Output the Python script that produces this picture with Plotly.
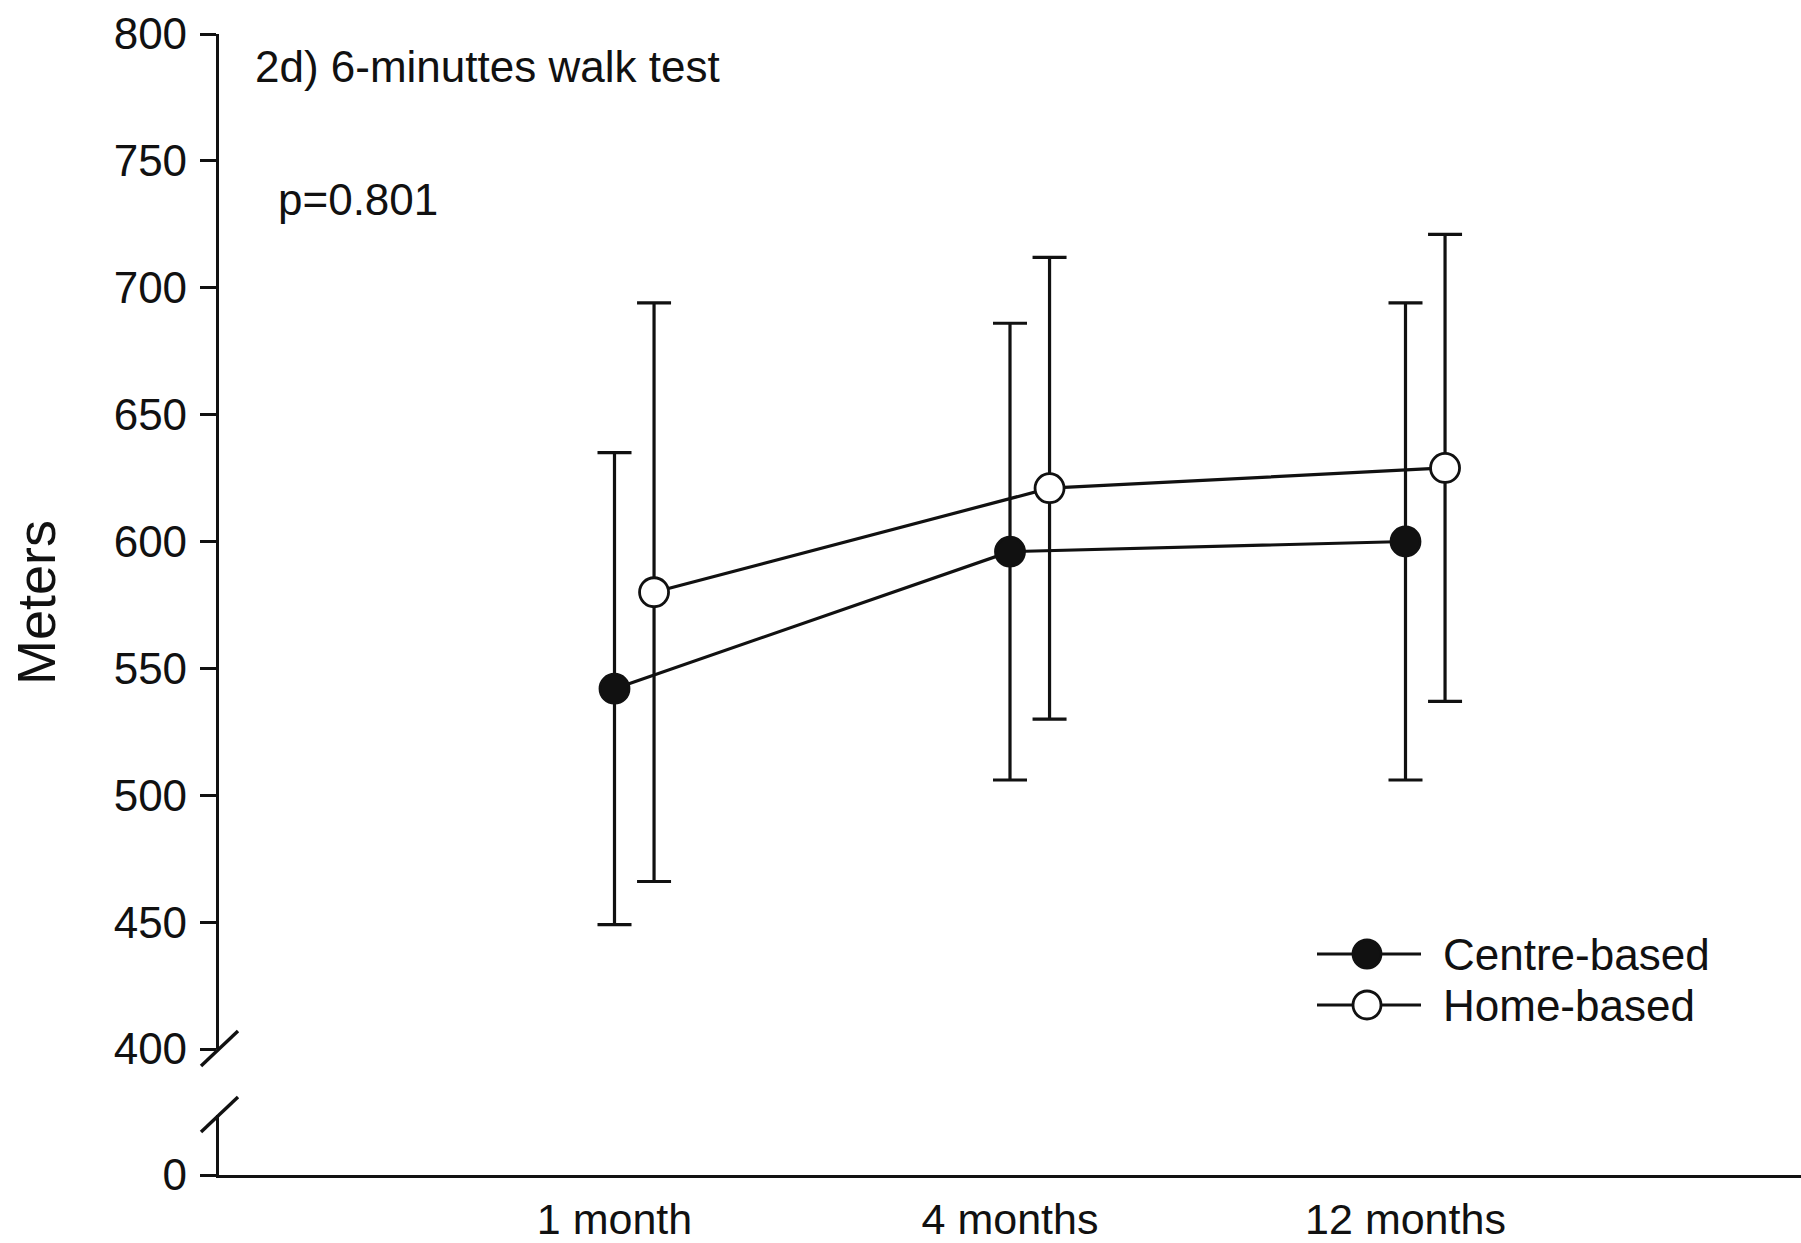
import plotly.graph_objects as go

# Six-minute walk test distance (m), mean and SD per follow-up visit
categories = ["1 month", "4 months", "12 months"]
centre_mean = [542, 596, 600]
centre_sd = [93, 90, 94]
home_mean = [580, 621, 629]
home_sd = [114, 91, 92]
series_names = ["Centre-based", "Home-based"]

y_ticks_upper = [400, 450, 500, 550, 600, 650, 700, 750, 800]
y_ticks_lower = [0]

FONT = "Arial, Liberation Sans, sans-serif"
BLACK = "#111111"
LW = 3.2

W, H = 1801, 1243
M_L, M_R, M_T, M_B = 219, 0, 34, 68
plot_h = H - M_T - M_B

# Broken y axis: upper panel 400-800, lower panel holds only the zero line
upper_bottom_px = 1049
lower_top_px = 1115
zero_px = H - M_B
upper_dom = [(zero_px - upper_bottom_px) / plot_h, 1.0]
lower_dom = [0.0, (zero_px - lower_top_px) / plot_h]
px_per_unit = (upper_bottom_px - M_T) / 400.0
lower_range = [0, (zero_px - lower_top_px) / px_per_unit]

base_x = [i + 1 for i in range(len(categories))]
offset = 0.1

fig = go.Figure()

styles = [
    dict(name=series_names[0], mean=centre_mean, sd=centre_sd, dx=0.0, fill=BLACK),
    dict(name=series_names[1], mean=home_mean, sd=home_sd, dx=offset, fill="white"),
]

for s in styles:
    fig.add_trace(go.Scatter(
        x=[b + s["dx"] for b in base_x],
        y=s["mean"],
        name=s["name"],
        mode="lines+markers",
        line=dict(color=BLACK, width=LW),
        marker=dict(symbol="circle", size=29, color=s["fill"],
                    line=dict(color=BLACK, width=2.8)),
        error_y=dict(type="data", array=s["sd"], symmetric=True,
                     color=BLACK, thickness=LW, width=17),
        xaxis="x", yaxis="y",
        showlegend=False,
        cliponaxis=False,
    ))

# Empty trace so the lower (zero) panel of the broken axis is created
fig.add_trace(go.Scatter(x=[], y=[], xaxis="x", yaxis="y2",
                         showlegend=False, hoverinfo="skip"))

axis_common = dict(
    showline=True, linecolor=BLACK, linewidth=LW,
    showgrid=False, zeroline=False, automargin=False,
    ticks="outside", ticklen=16, tickwidth=LW, tickcolor=BLACK,
    tickfont=dict(family=FONT, size=44, color=BLACK),
    ticklabelstandoff=4,
)

fig.update_layout(
    width=W, height=H,
    margin=dict(l=M_L, r=M_R, t=M_T, b=M_B, pad=0, autoexpand=False),
    paper_bgcolor="white", plot_bgcolor="white",
    font=dict(family=FONT, color=BLACK),
    xaxis=dict(
        domain=[0, 1], anchor="y2", range=[0, 4.0],
        showline=True, linecolor=BLACK, linewidth=LW,
        showgrid=False, zeroline=False, ticks="", automargin=False,
        tickvals=base_x, ticktext=categories,
        tickfont=dict(family=FONT, size=43, color=BLACK),
        ticklabelstandoff=4,
    ),
    yaxis=dict(domain=upper_dom, anchor="x", range=[400, 800],
               tickvals=y_ticks_upper, **axis_common),
    yaxis2=dict(domain=lower_dom, anchor="x", range=lower_range,
                tickvals=y_ticks_lower, **axis_common),
    showlegend=False,
)

# Break marks on the y axis
for yref, anchor in (("y domain", 0), ("y2 domain", 1)):
    fig.add_shape(type="line", xref="paper", yref=yref,
                  xsizemode="pixel", ysizemode="pixel",
                  xanchor=0, yanchor=anchor,
                  x0=-18, x1=19, y0=-17, y1=18,
                  line=dict(color=BLACK, width=3.4))

def px_x(px):
    return (px - M_L) / (W - M_L - M_R)

def px_y(py):
    return (zero_px - py) / plot_h

# Axis title and panel labels
fig.add_annotation(text="Meters", xref="paper", yref="paper",
                   x=px_x(36), y=px_y(603), xanchor="center", yanchor="middle",
                   textangle=-90, showarrow=False,
                   font=dict(family=FONT, size=54, color=BLACK))
fig.add_annotation(text="2d) 6-minuttes walk test", xref="paper", yref="paper",
                   x=px_x(253), y=px_y(67), xanchor="left", yanchor="middle",
                   showarrow=False, font=dict(family=FONT, size=44, color=BLACK))
fig.add_annotation(text="p=0.801", xref="paper", yref="paper",
                   x=px_x(276), y=px_y(199), xanchor="left", yanchor="middle",
                   showarrow=False, font=dict(family=FONT, size=44, color=BLACK))

# Legend: line with centred marker, followed by the series name
legend_rows = [954, 1005]
key_left, key_right, key_mid, text_left = 1317, 1421, 1367, 1441
for s, row in zip(styles, legend_rows):
    yy = px_y(row)
    fig.add_shape(type="line", xref="paper", yref="paper",
                  x0=px_x(key_left), x1=px_x(key_right), y0=yy, y1=yy,
                  line=dict(color=BLACK, width=LW))
    fig.add_shape(type="circle", xref="paper", yref="paper",
                  xsizemode="pixel", ysizemode="pixel",
                  xanchor=px_x(key_mid), yanchor=yy,
                  x0=-14, x1=14, y0=-14, y1=14,
                  fillcolor=s["fill"], line=dict(color=BLACK, width=2.8))
    fig.add_annotation(text=s["name"], xref="paper", yref="paper",
                       x=px_x(text_left), y=yy, xanchor="left", yanchor="middle",
                       showarrow=False,
                       font=dict(family=FONT, size=44, color=BLACK))

fig.write_html("out.html")
